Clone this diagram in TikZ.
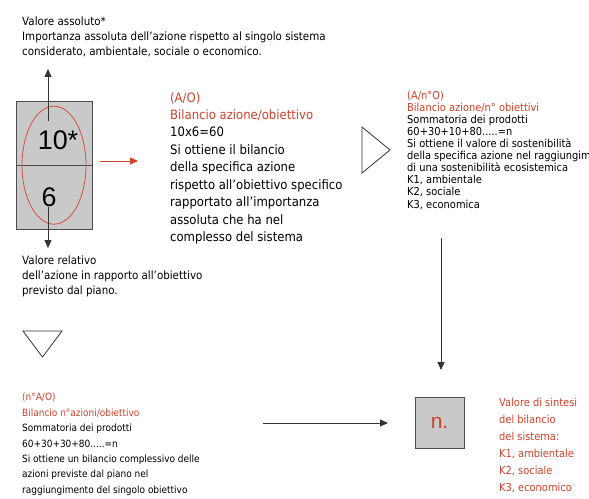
\documentclass[tikz,border=0pt]{standalone}
\usepackage{fontspec}
\setmainfont{DejaVu Sans}[FakeStretch=0.9]
\newfontfamily\digitfont{Liberation Sans}
\usetikzlibrary{arrows.meta,positioning,shapes.geometric}
\definecolor{txtred}{RGB}{208,64,42}
\definecolor{boxgray}{RGB}{201,201,201}
\definecolor{ringred}{RGB}{214,78,66}
\tikzset{cell/.style={draw=black!70,fill=boxgray,minimum width=76bp,minimum height=64bp,inner sep=0pt},
  txt/.style={anchor=north west,align=left,inner sep=0pt},
  bignum/.style={inner sep=0pt,font=\digitfont\fontsize{27}{27}\selectfont},
  arr/.style={-{Triangle[length=8bp,width=7bp]},draw=black!80,line width=0.8bp},
  tri/.style={draw=black!80,line width=0.8bp,line join=miter}}

\begin{document}
\begin{tikzpicture}[x=1bp,y=-1bp]
\useasboundingbox (0,0) rectangle (589,499);
% valore assoluto / relativo
\node[txt,font=\fontsize{11.5}{15}\selectfont] (abstxt) at (22,17) {Valore assoluto*\\Importanza assoluta dell’azione rispetto al singolo sistema\\considerato, ambientale, sociale o economico.};
\node[cell] (absval) at (54,133) {};
\node[cell] (relval) at (54,197) {};
\node[ellipse,draw=ringred,line width=0.8bp,minimum width=64bp,minimum height=118bp,inner sep=0pt] (ring) at (absval.south) {};
\node[bignum] (ten) at (58,140) {10*};
\node[bignum] (six) at (49,197) {6};
\coordinate (upbase) at (48,121); \coordinate (uptop) at (48,69);
\coordinate (downbase) at (48,207); \coordinate (downtip) at (48,248);
\draw[arr] (upbase) -- (uptop);
\draw[arr] (downbase) -- (downtip);
\node[txt,font=\fontsize{11.5}{15}\selectfont] (reltxt) at (22,256) {Valore relativo\\dell’azione in rapporto all’obiettivo\\previsto dal piano.};
% bilancio azione/obiettivo
\coordinate (redstart) at (100,161); \coordinate (redtip) at (138,161);
\draw[arr,draw=txtred] (redstart) -- (redtip);
\node[txt,font=\fontsize{13}{17.5}\selectfont] (pairtxt) at (170,92) {\textcolor{txtred}{(A/O)}\\\textcolor{txtred}{Bilancio azione/obiettivo}\\10x6=60\\Si ottiene il bilancio\\della specifica azione\\rispetto all’obiettivo specifico\\rapportato all’importanza\\assoluta che ha nel\\complesso del sistema};
\draw[tri] (362,127) -- (362,173) -- (390,150) -- cycle;
% bilancio azione/n obiettivi
\node[txt,font=\fontsize{11}{12.1}\selectfont] (sumtxt) at (407,91) {\textcolor{txtred}{(A/n°O)}\\\textcolor{txtred}{Bilancio azione/n° obiettivi}\\Sommatoria dei prodotti\\60+30+10+80.....=n\\Si ottiene il valore di sostenibilità\\della specifica azione nel raggiungimento\\di una sostenibilità ecosistemica\\K1, ambientale\\K2, sociale\\K3, economica};
\coordinate (sumdown) at (441,238); \coordinate (sumtip) at (441,370);
\draw[arr] (sumdown) -- (sumtip);
% bilancio n azioni/obiettivo
\draw[tri] (23,331) -- (62,331) -- (42.5,357) -- cycle;
\node[txt,font=\fontsize{10}{15.5}\selectfont] (globtxt) at (22,393) {\textcolor{txtred}{(n°A/O)}\\\textcolor{txtred}{Bilancio n°azioni/obiettivo}\\Sommatoria dei prodotti\\60+30+30+80.....=n\\Si ottiene un bilancio complessivo delle\\azioni previste dal piano nel\\raggiungimento del singolo obiettivo};
\coordinate (globstart) at (263,423); \coordinate (globtip) at (388,423);
\draw[arr] (globstart) -- (globtip);
\node[draw=black!70,fill=boxgray,minimum width=49bp,minimum height=51bp,text=txtred,font=\digitfont\fontsize{21}{21}\selectfont] (ncell) at (439.5,422.5) {n.};
\node[txt,text=txtred,font=\fontsize{11}{17}\selectfont] (synttxt) at (499,398) {Valore di sintesi\\del bilancio\\del sistema:\\K1, ambientale\\K2, sociale\\K3, economico};
\end{tikzpicture}
\end{document}
